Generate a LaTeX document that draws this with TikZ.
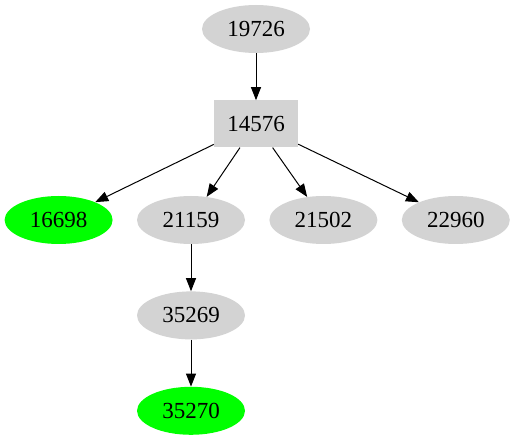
\documentclass[tikz,border=0pt]{standalone}
\usepackage{fontspec}
\setmainfont{Liberation Serif}
\usetikzlibrary{shapes.geometric, arrows.meta, positioning}
\definecolor{nodegray}{HTML}{D3D3D3}
\definecolor{leafgreen}{HTML}{00FF00}

\begin{document}
\begin{tikzpicture}[x=1pt, y=-1pt, node distance=47pt and 24pt, font=\fontsize{23}{27}\selectfont,
  graynode/.style={ellipse, fill=nodegray, minimum width=108pt, minimum height=48pt, inner sep=0pt},
  greennode/.style={ellipse, fill=leafgreen, minimum width=108pt, minimum height=48pt, inner sep=0pt},
  graybox/.style={rectangle, fill=nodegray, minimum width=84pt, minimum height=47pt, inner sep=0pt},
  edge/.style={-{Triangle[length=13pt, width=10pt]}, line width=1pt}]
  \useasboundingbox (0,0) rectangle (514,443);
  \node[graynode] (n19726) at (256,29) {19726};
  \node[graybox, below=of n19726] (n14576) {14576};
  \node[graynode] (n21159) at (191,220) {21159};
  \node[greennode, left=of n21159] (n16698) {16698};
  \node[graynode, right=of n21159] (n21502) {21502};
  \node[graynode, right=of n21502] (n22960) {22960};
  \node[graynode, below=of n21159] (n35269) {35269};
  \node[greennode, below=of n35269] (n35270) {35270};
  \draw[edge] (n19726) -- (n14576);
  \draw[edge] (n14576) -- (n16698);
  \draw[edge] (n14576) -- (n21159);
  \draw[edge] (n14576) -- (n21502);
  \draw[edge] (n14576) -- (n22960);
  \draw[edge] (n21159) -- (n35269);
  \draw[edge] (n35269) -- (n35270);
\end{tikzpicture}
\end{document}
